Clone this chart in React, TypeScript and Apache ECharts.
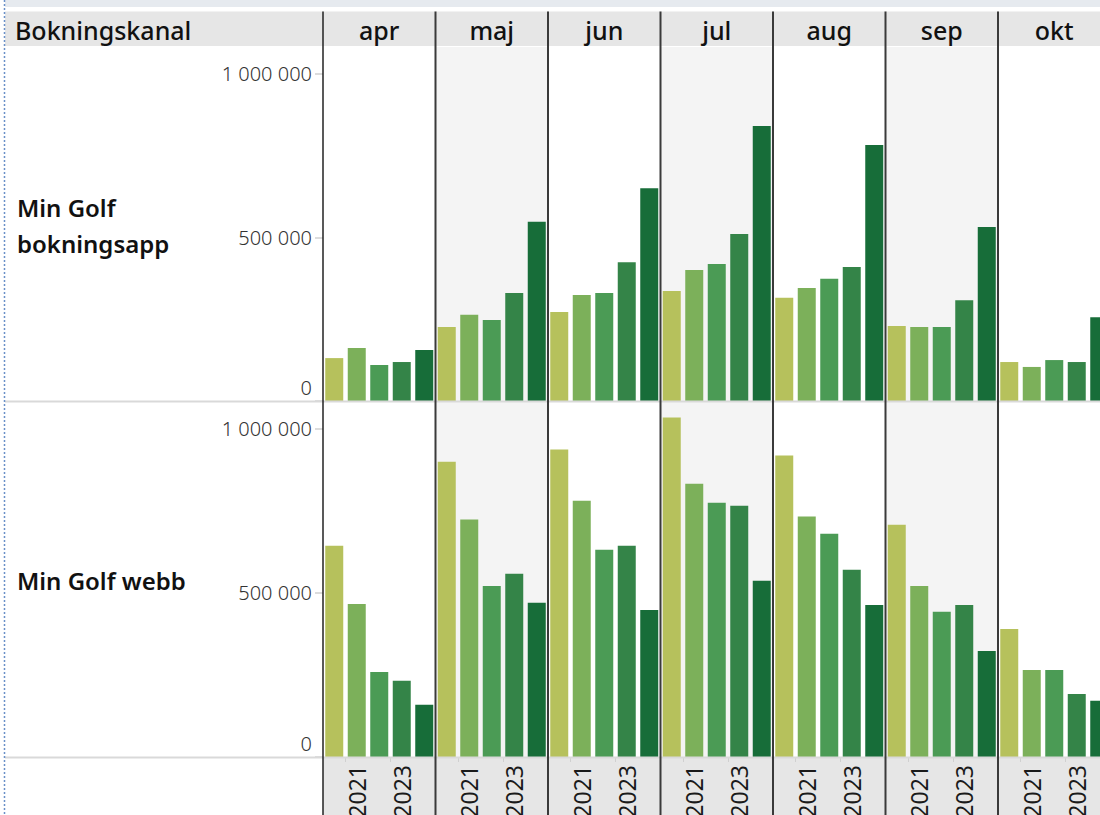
import React, { useEffect, useRef } from "react";
import * as echarts from "echarts";

// ---- data ----
const months = ["apr", "maj", "jun", "jul", "aug", "sep", "okt"];
const years = ["2020", "2021", "2022", "2023", "2024"];
const yearTickLabels = ["2021", "2023"];
const channels = ["Min Golf\nbokningsapp", "Min Golf webb"];
const headerTitle = "Bokningskanal";
const yearColors = ["#b6c15c", "#7cb05a", "#4b9b55", "#348448", "#176d39"];

// Min Golf bokningsapp, per month, per year 2020..2024
const appApr = [131000, 162000, 110000, 119000, 156000];
const appMaj = [226000, 263000, 247000, 330000, 547000];
const appJun = [272000, 324000, 330000, 424000, 650000];
const appJul = [336000, 400000, 418000, 510000, 840000];
const appAug = [315000, 345000, 373000, 409000, 782000];
const appSep = [229000, 226000, 226000, 308000, 531000];
const appOkt = [119000, 104000, 125000, 119000, 256000];

// Min Golf webb, per month, per year 2020..2024
const webbApr = [643000, 466000, 259000, 232000, 159000];
const webbMaj = [899000, 723000, 521000, 558000, 470000];
const webbJun = [936000, 780000, 631000, 643000, 448000];
const webbJul = [1034000, 832000, 774000, 765000, 537000];
const webbAug = [918000, 732000, 680000, 570000, 463000];
const webbSep = [707000, 521000, 442000, 463000, 323000];
const webbOkt = [390000, 265000, 265000, 192000, 171000];

const appRows = [appApr, appMaj, appJun, appJul, appAug, appSep, appOkt];
const webbRows = [webbApr, webbMaj, webbJun, webbJul, webbAug, webbSep, webbOkt];
const channelData = [appRows, webbRows];

const yMax = 1081000;
const yInterval = 500000;

// ---- layout ----
const W = 1100;
const H = 815;
const leftEdge = 5;
const plotLeft = 323;
const colW = 112.5;
const headerTop = 11.5;
const headerBottom = 46;
const rowTops = [47, 402];
const rowHeights = [354, 355];
const bottomTop = 758;
const FONT = "'Noto Sans', sans-serif";

const fmt = (v: number) =>
  String(Math.round(v)).replace(/\B(?=(\d{3})+(?!\d))/g, " ");

export default function App() {
  const ref = useRef<HTMLDivElement>(null);

  useEffect(() => {
    if (!ref.current) return;
    const chart = echarts.init(ref.current, undefined, { renderer: "svg" });

    const grid: any[] = [];
    const xAxis: any[] = [];
    const yAxis: any[] = [];
    const series: any[] = [];

    channelData.forEach((rows, r) => {
      rows.forEach((vals, m) => {
        const gi = grid.length;
        grid.push({
          left: plotLeft + m * colW,
          top: rowTops[r],
          width: colW,
          height: rowHeights[r],
          show: true,
          backgroundColor: m % 2 === 1 ? "#f4f4f4" : "#ffffff",
          borderWidth: 0,
          containLabel: false,
          outerBoundsMode: "none",
        });
        xAxis.push({
          type: "category",
          gridIndex: gi,
          data: years,
          boundaryGap: true,
          axisLine: { show: false },
          axisTick:
            r === 1
              ? { show: true, length: 5, lineStyle: { color: "#d0d0d0" } }
              : { show: false },
          axisLabel:
            r === 1
              ? {
                  show: true,
                  rotate: 90,
                  interval: (_i: number, v: string) => yearTickLabels.includes(v),
                  fontSize: 23,
                  color: "#1a1a1a",
                  margin: 8,
                  fontFamily: FONT,
                  hideOverlap: false,
                }
              : { show: false },
          splitLine: { show: false },
        });
        yAxis.push({
          type: "value",
          gridIndex: gi,
          min: 0,
          max: yMax,
          interval: yInterval,
          axisLine: { show: false },
          splitLine: { show: false },
          axisTick:
            m === 0
              ? { show: true, length: 8, lineStyle: { color: "#d0d0d0", width: 1.5 } }
              : { show: false },
          axisLabel:
            m === 0
              ? {
                  show: true,
                  formatter: (v: number) => (v === 0 ? "{z|0}" : fmt(v)),
                  rich: {
                    z: {
                      fontSize: 20,
                      color: "#333",
                      fontFamily: FONT,
                      fontWeight: 300,
                      padding: [0, 0, 4, 0],
                    },
                  },
                  showMaxLabel: false,
                  verticalAlignMinLabel: "bottom",
                  fontSize: 20,
                  fontWeight: 300,
                  color: "#333",
                  margin: 11,
                  fontFamily: FONT,
                }
              : { show: false },
        });
        series.push({
          type: "bar",
          xAxisIndex: gi,
          yAxisIndex: gi,
          data: vals,
          colorBy: "data",
          barCategoryGap: "20%",
          z: 2,
        });
      });
    });

    const elements: any[] = [];
    elements.push({
      type: "rect",
      z: -10,
      shape: { x: leftEdge, y: 0, width: W - leftEdge, height: 7 },
      style: { fill: "#e6eaef" },
    });
    elements.push({
      type: "rect",
      z: -10,
      shape: { x: leftEdge, y: headerTop, width: W - leftEdge, height: headerBottom - headerTop },
      style: { fill: "#e6e6e6" },
    });
    elements.push({
      type: "rect",
      z: -10,
      shape: { x: plotLeft, y: bottomTop, width: W - plotLeft, height: H - bottomTop },
      style: { fill: "#e6e6e6" },
    });
    rowTops.forEach((t, r) => {
      const y = t + rowHeights[r] + 0.5;
      elements.push({
        type: "line",
        z: 40,
        shape: { x1: leftEdge, y1: y, x2: W, y2: y },
        style: { stroke: "#d9d9d9", lineWidth: 2 },
      });
    });
    months.forEach((_m, i) => {
      const x = plotLeft + i * colW;
      elements.push({
        type: "line",
        z: 50,
        shape: { x1: x, y1: headerTop, x2: x, y2: H },
        style: { stroke: i === 0 ? "#222" : "#3a3a3a", lineWidth: i === 0 ? 1.5 : 2 },
      });
    });
    elements.push({
      type: "line",
      z: 50,
      shape: { x1: 4.5, y1: 0, x2: 4.5, y2: H },
      style: { stroke: "#6a90c8", lineWidth: 1.5, lineDash: [2, 2] },
    });
    elements.push({
      type: "text",
      z: 60,
      x: 15,
      y: (headerTop + headerBottom) / 2 + 1,
      style: {
        text: headerTitle,
        fontSize: 25,
        fontWeight: 500,
        fontFamily: FONT,
        fill: "#111",
        verticalAlign: "middle",
        align: "left",
      },
    });
    months.forEach((m, i) => {
      elements.push({
        type: "text",
        z: 60,
        x: plotLeft + i * colW + colW / 2,
        y: (headerTop + headerBottom) / 2 + 1,
        style: {
          text: m,
          fontSize: 25,
          fontWeight: 500,
          fontFamily: FONT,
          fill: "#111",
          verticalAlign: "middle",
          align: "center",
        },
      });
    });
    channels.forEach((c, r) => {
      elements.push({
        type: "text",
        z: 60,
        x: 17,
        y: rowTops[r] + rowHeights[r] / 2 + 1,
        style: {
          text: c,
          fontSize: 24,
          fontWeight: 600,
          fontFamily: FONT,
          fill: "#111",
          lineHeight: 36,
          verticalAlign: "middle",
          align: "left",
        },
      });
    });

    chart.setOption({
      animation: false,
      backgroundColor: "#ffffff",
      color: yearColors,
      grid,
      xAxis,
      yAxis,
      series,
      graphic: { elements },
    });

    return () => chart.dispose();
  }, []);

  return (
    <div
      ref={ref}
      style={{ position: "absolute", left: 0, top: 0, width: W, height: H }}
    />
  );
}
